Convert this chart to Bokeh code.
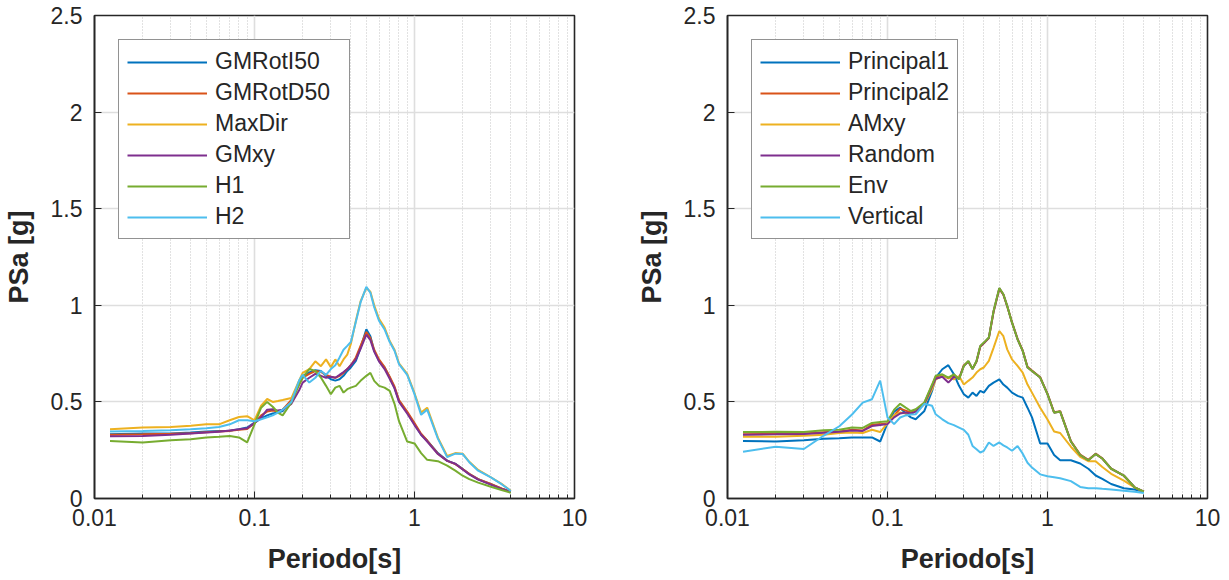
from bokeh.plotting import figure
from bokeh.models import FixedTicker, Legend, LegendItem, Range1d
from bokeh.layouts import row
from bokeh.embed import file_html
from bokeh.resources import INLINE

# ---------------- data ----------------
periods = [0.0125, 0.02, 0.03, 0.04, 0.05, 0.06, 0.07, 0.08, 0.09, 0.1,
           0.11, 0.12, 0.13, 0.14, 0.15, 0.17, 0.19, 0.2, 0.22, 0.24,
           0.26, 0.28, 0.3, 0.32, 0.34, 0.36, 0.38, 0.4, 0.43, 0.46,
           0.5, 0.53, 0.56, 0.6, 0.65, 0.7, 0.75, 0.8, 0.9, 1.0,
           1.1, 1.2, 1.4, 1.6, 1.8, 2.0, 2.2, 2.5, 3.0, 3.5, 4.0]

left_names = ["GMRotI50", "GMRotD50", "MaxDir", "GMxy", "H1", "H2"]
gmroti50 = [0.333, 0.336, 0.336, 0.341, 0.347, 0.350, 0.350, 0.359, 0.367, 0.393,
            0.415, 0.430, 0.440, 0.445, 0.453, 0.505, 0.600, 0.635, 0.652, 0.664,
            0.660, 0.635, 0.617, 0.610, 0.617, 0.635, 0.660, 0.678, 0.712, 0.780,
            0.876, 0.840, 0.764, 0.712, 0.678, 0.626, 0.574, 0.505, 0.445, 0.385,
            0.330, 0.300, 0.235, 0.196, 0.179, 0.153, 0.126, 0.100, 0.074, 0.051, 0.035]
gmrotd50 = [0.330, 0.332, 0.335, 0.338, 0.343, 0.347, 0.350, 0.356, 0.360, 0.390,
            0.430, 0.450, 0.455, 0.450, 0.460, 0.510, 0.590, 0.625, 0.645, 0.660,
            0.655, 0.640, 0.630, 0.625, 0.635, 0.650, 0.670, 0.690, 0.730, 0.790,
            0.862, 0.830, 0.770, 0.720, 0.680, 0.630, 0.580, 0.510, 0.450, 0.390,
            0.335, 0.300, 0.232, 0.195, 0.178, 0.152, 0.128, 0.100, 0.075, 0.052, 0.036]
maxdir = [0.359, 0.367, 0.370, 0.376, 0.384, 0.384, 0.405, 0.422, 0.426, 0.405,
          0.480, 0.515, 0.500, 0.505, 0.510, 0.520, 0.610, 0.650, 0.670, 0.710,
          0.685, 0.720, 0.680, 0.720, 0.685, 0.720, 0.745, 0.800, 0.920, 1.020,
          1.090, 1.070, 1.000, 0.930, 0.885, 0.815, 0.770, 0.700, 0.645, 0.545,
          0.445, 0.470, 0.315, 0.220, 0.235, 0.232, 0.190, 0.148, 0.110, 0.076, 0.040]
gmxy = [0.322, 0.324, 0.330, 0.336, 0.342, 0.345, 0.352, 0.358, 0.364, 0.390,
        0.420, 0.460, 0.462, 0.455, 0.460, 0.490, 0.560, 0.600, 0.625, 0.645,
        0.635, 0.625, 0.630, 0.625, 0.640, 0.655, 0.670, 0.690, 0.720, 0.775,
        0.848, 0.820, 0.760, 0.710, 0.670, 0.620, 0.570, 0.500, 0.440, 0.380,
        0.330, 0.295, 0.230, 0.195, 0.180, 0.150, 0.125, 0.098, 0.072, 0.050, 0.034]
h1 = [0.297, 0.290, 0.302, 0.307, 0.316, 0.319, 0.324, 0.316, 0.290, 0.384,
      0.470, 0.500, 0.475, 0.445, 0.430, 0.497, 0.590, 0.626, 0.670, 0.660,
      0.626, 0.583, 0.540, 0.574, 0.583, 0.548, 0.566, 0.574, 0.583, 0.609,
      0.635, 0.650, 0.609, 0.583, 0.574, 0.557, 0.490, 0.400, 0.295, 0.285,
      0.235, 0.200, 0.193, 0.170, 0.144, 0.118, 0.100, 0.082, 0.061, 0.044, 0.030]
h2 = [0.347, 0.350, 0.353, 0.359, 0.364, 0.370, 0.384, 0.405, 0.405, 0.400,
      0.410, 0.420, 0.430, 0.445, 0.460, 0.500, 0.610, 0.640, 0.600, 0.625,
      0.660, 0.640, 0.670, 0.690, 0.730, 0.770, 0.790, 0.810, 0.915, 1.015,
      1.095, 1.065, 0.990, 0.920, 0.875, 0.810, 0.765, 0.695, 0.640, 0.540,
      0.433, 0.460, 0.310, 0.214, 0.232, 0.230, 0.188, 0.144, 0.109, 0.074, 0.039]

right_names = ["Principal1", "Principal2", "AMxy", "Random", "Env", "Vertical"]
principal1 = [0.298, 0.295, 0.302, 0.309, 0.312, 0.316, 0.316, 0.316, 0.295, 0.390,
              0.450, 0.470, 0.440, 0.420, 0.410, 0.453, 0.557, 0.626, 0.669, 0.690,
              0.643, 0.583, 0.540, 0.522, 0.548, 0.531, 0.557, 0.548, 0.583, 0.600,
              0.617, 0.590, 0.574, 0.548, 0.531, 0.522, 0.470, 0.420, 0.285, 0.285,
              0.225, 0.198, 0.198, 0.181, 0.154, 0.119, 0.102, 0.075, 0.053, 0.046, 0.035]
principal2 = [0.333, 0.335, 0.336, 0.343, 0.347, 0.356, 0.352, 0.382, 0.385, 0.390,
              0.430, 0.465, 0.455, 0.445, 0.455, 0.495, 0.585, 0.630, 0.640, 0.622,
              0.640, 0.620, 0.690, 0.708, 0.672, 0.708, 0.785, 0.803, 0.830, 0.965,
              1.085, 1.055, 0.995, 0.912, 0.826, 0.766, 0.682, 0.662, 0.628, 0.542,
              0.446, 0.452, 0.297, 0.227, 0.200, 0.232, 0.208, 0.155, 0.118, 0.058, 0.035]
amxy = [0.319, 0.319, 0.325, 0.330, 0.339, 0.342, 0.339, 0.356, 0.344, 0.390,
        0.430, 0.445, 0.440, 0.436, 0.453, 0.488, 0.565, 0.617, 0.634, 0.626,
        0.617, 0.634, 0.590, 0.609, 0.626, 0.652, 0.669, 0.678, 0.712, 0.780,
        0.867, 0.840, 0.772, 0.720, 0.686, 0.652, 0.590, 0.548, 0.470, 0.409,
        0.347, 0.339, 0.268, 0.216, 0.193, 0.193, 0.163, 0.128, 0.093, 0.058, 0.035]
random_ = [0.330, 0.332, 0.334, 0.340, 0.345, 0.352, 0.350, 0.375, 0.380, 0.385,
           0.420, 0.440, 0.445, 0.440, 0.450, 0.490, 0.580, 0.620, 0.630, 0.600,
           0.630, 0.620, 0.686, 0.710, 0.670, 0.710, 0.788, 0.805, 0.832, 0.968,
           1.088, 1.056, 0.996, 0.910, 0.824, 0.764, 0.678, 0.660, 0.626, 0.540,
           0.444, 0.450, 0.295, 0.225, 0.198, 0.230, 0.207, 0.154, 0.119, 0.058, 0.035]
env = [0.344, 0.345, 0.344, 0.353, 0.356, 0.368, 0.365, 0.391, 0.396, 0.400,
       0.460, 0.490, 0.470, 0.453, 0.462, 0.497, 0.590, 0.635, 0.643, 0.626,
       0.643, 0.617, 0.686, 0.712, 0.670, 0.712, 0.790, 0.807, 0.833, 0.970,
       1.090, 1.057, 0.997, 0.910, 0.824, 0.764, 0.678, 0.660, 0.626, 0.540,
       0.444, 0.450, 0.295, 0.225, 0.198, 0.230, 0.207, 0.154, 0.119, 0.058, 0.035]
vertical = [0.242, 0.268, 0.256, 0.326, 0.374, 0.435, 0.496, 0.514, 0.610, 0.420,
            0.385, 0.419, 0.430, 0.435, 0.436, 0.490, 0.480, 0.436, 0.410, 0.390,
            0.380, 0.367, 0.355, 0.330, 0.272, 0.255, 0.238, 0.247, 0.290, 0.272,
            0.290, 0.275, 0.264, 0.247, 0.272, 0.232, 0.185, 0.160, 0.125, 0.115,
            0.110, 0.105, 0.090, 0.060, 0.053, 0.053, 0.050, 0.047, 0.040, 0.035, 0.028]

colors = ["#0072BD", "#D95319", "#EDB120", "#7E2F8E", "#77AC30", "#4DBEEE"]

x_ticks = [0.01, 0.1, 1, 10]
x_tick_labels = ["0.01", "0.1", "1", "10"]
y_ticks = [0, 0.5, 1, 1.5, 2, 2.5]
y_tick_labels = ["0", "0.5", "1", "1.5", "2", "2.5"]
x_label = "Periodo[s]"
y_label = "PSa [g]"

# ---------------- styling ----------------
FONT = "Liberation Sans"
DARK = "#262626"
minor_x = [m * d for d in (0.01, 0.1, 1) for m in range(2, 10)]


def make_fig(series, names, border_right, label_width):
    p = figure(frame_width=480, frame_height=483,
               x_axis_type="log",
               x_range=Range1d(0.01, 10), y_range=Range1d(0, 2.5),
               output_backend="svg", toolbar_location=None,
               min_border_left=92, min_border_right=border_right,
               min_border_top=15, min_border_bottom=80)
    p.background_fill_color = "white"
    p.border_fill_color = "white"
    p.outline_line_color = DARK
    p.outline_line_width = 1.6

    p.xaxis.ticker = FixedTicker(ticks=x_ticks, minor_ticks=minor_x)
    p.yaxis.ticker = FixedTicker(ticks=y_ticks)
    p.xaxis.major_label_overrides = {t: l for t, l in zip(x_ticks, x_tick_labels)}
    p.yaxis.major_label_overrides = {t: l for t, l in zip(y_ticks, y_tick_labels)}

    for ax in (p.xaxis, p.yaxis):
        ax.axis_line_color = DARK
        ax.axis_line_width = 1.6
        ax.major_tick_line_color = DARK
        ax.minor_tick_line_color = DARK
        ax.major_tick_in = 7
        ax.major_tick_out = 0
        ax.major_label_text_font = FONT
        ax.major_label_text_font_size = "23px"
        ax.major_label_text_color = DARK
        ax.axis_label_text_font = FONT
        ax.axis_label_text_font_size = "27px"
        ax.axis_label_text_font_style = "bold"
        ax.axis_label_text_color = DARK
    p.xaxis.major_label_standoff = 10
    p.yaxis.major_label_standoff = 12
    p.xaxis.minor_tick_in = 4
    p.xaxis.minor_tick_out = 0
    p.yaxis.minor_tick_in = 0
    p.yaxis.minor_tick_out = 0
    p.xaxis.axis_label = x_label
    p.yaxis.axis_label = y_label
    p.xaxis.axis_label_standoff = 15
    p.yaxis.axis_label_standoff = 14

    p.xgrid.grid_line_color = "#dedede"
    p.xgrid.grid_line_width = 1.6
    p.ygrid.grid_line_color = "#dedede"
    p.ygrid.grid_line_width = 1.6
    p.xgrid.minor_grid_line_color = "#c4c4c4"
    p.xgrid.minor_grid_line_width = 1
    p.xgrid.minor_grid_line_dash = "1 2"

    items = []
    for vals, name, col in zip(series, names, colors):
        r = p.line(periods, vals, line_color=col, line_width=2)
        items.append(LegendItem(label=name, renderers=[r]))

    legend = Legend(items=items, location="top_left")
    legend.margin = 24
    legend.padding = 8
    legend.spacing = 4
    legend.glyph_width = 80
    legend.glyph_height = 20
    legend.label_height = 20
    legend.label_width = label_width
    legend.label_standoff = 8
    legend.label_text_font = FONT
    legend.label_text_font_size = "23px"
    legend.label_text_color = DARK
    legend.border_line_color = DARK
    legend.border_line_width = 1.5
    legend.background_fill_color = "white"
    legend.background_fill_alpha = 1.0
    p.add_layout(legend)
    return p


p1 = make_fig([gmroti50, gmrotd50, maxdir, gmxy, h1, h2], left_names, 59, 126)
p2 = make_fig([principal1, principal2, amxy, random_, env, vertical], right_names, 20, 96)

layout = row(p1, p2)
open("out.html", "w").write(file_html(layout, INLINE))
